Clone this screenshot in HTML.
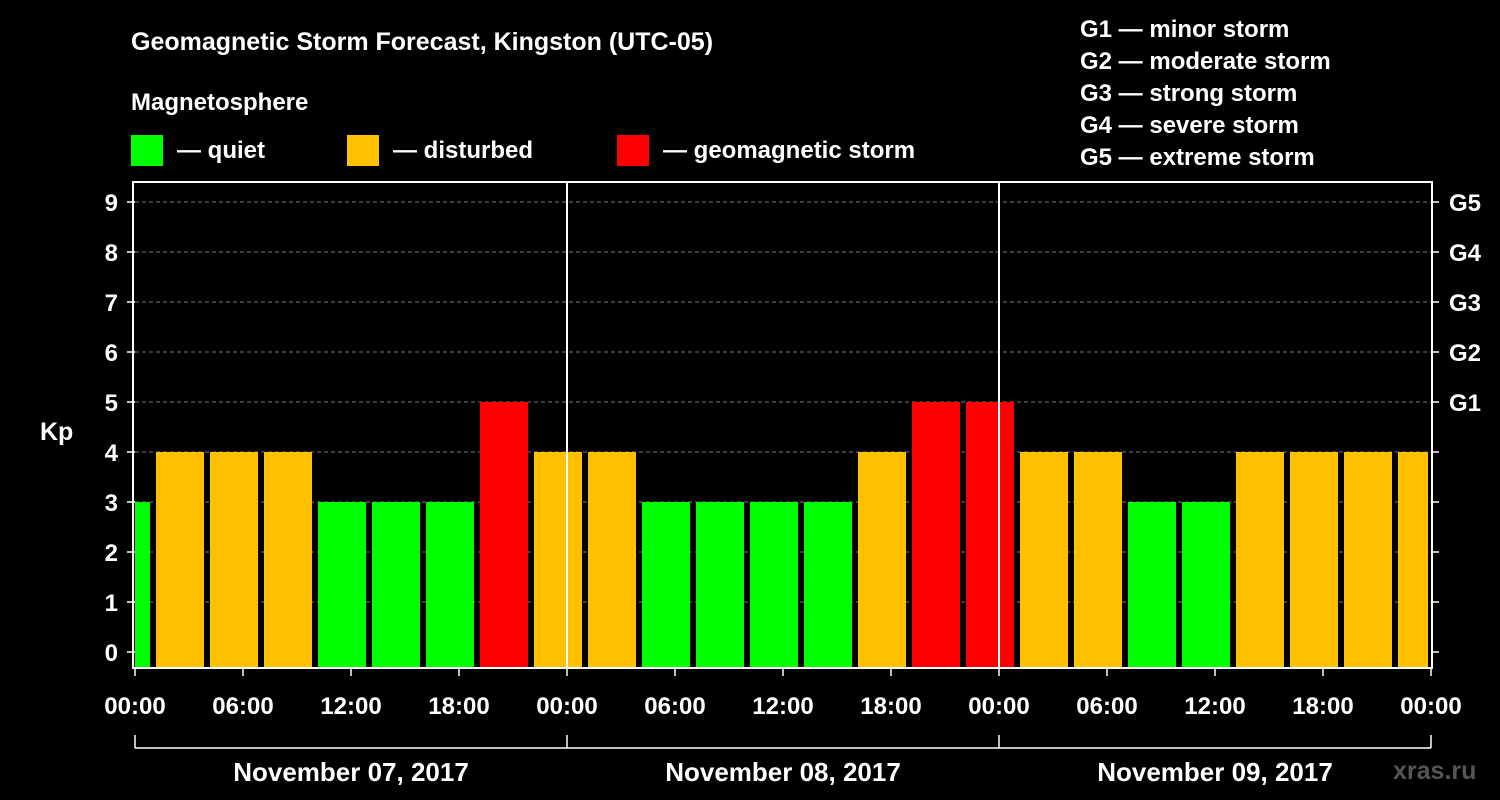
<!DOCTYPE html>
<html><head><meta charset="utf-8"><style>
html,body{margin:0;padding:0;background:#000;}
svg{display:block;font-family:"Liberation Sans",Arial,sans-serif;font-weight:bold;}
</style></head><body>
<svg id="chart" width="1500" height="800" viewBox="0 0 1500 800">
<rect x="0" y="0" width="1500" height="800" fill="#000"/>
<text x="131" y="50" fill="#fff" font-size="25">Geomagnetic Storm Forecast, Kingston (UTC-05)</text>
<text x="131" y="110" fill="#fff" font-size="24">Magnetosphere</text>
<g><rect x="131" y="135" width="32" height="31" fill="#00ff00"/><text x="177" y="158" fill="#fff" font-size="24">— quiet</text></g>
<g><rect x="347" y="135" width="32" height="31" fill="#ffc000"/><text x="393" y="158" fill="#fff" font-size="24">— disturbed</text></g>
<g><rect x="617" y="135" width="32" height="31" fill="#ff0000"/><text x="663" y="158" fill="#fff" font-size="24">— geomagnetic storm</text></g>
<g fill="#fff" font-size="24">
<text x="1080" y="37">G1 — minor storm</text>
<text x="1080" y="69">G2 — moderate storm</text>
<text x="1080" y="101">G3 — strong storm</text>
<text x="1080" y="133">G4 — severe storm</text>
<text x="1080" y="165">G5 — extreme storm</text>
</g>
<text x="40" y="440" fill="#fff" font-size="25">Kp</text>
<text x="1393" y="779" fill="#555" font-size="25">xras.ru</text>
<g id="grid"></g><g id="bars"></g><g id="axes"></g>
</svg>
<script>
const barStartHours = [0,1,4,7,10,13,16,19,22,25,28,31,34,37,40,43,46,49,52,55,58,61,64,67,70];
const barEndHours   = [1,4,7,10,13,16,19,22,25,28,31,34,37,40,43,46,49,52,55,58,61,64,67,70,72];
const kpValues      = [3,4,4,4,3,3,3,5,4,4,3,3,3,3,4,5,5,4,4,3,3,4,4,4,4];
const yTicks = [0,1,2,3,4,5,6,7,8,9];
const gLabels = ["G1","G2","G3","G4","G5"];
const gLevels = [5,6,7,8,9];
const xTickHours = [0,6,12,18,24,30,36,42,48,54,60,66,72];
const xTickLabels = ["00:00","06:00","12:00","18:00","00:00","06:00","12:00","18:00","00:00","06:00","12:00","18:00","00:00"];
const dayLabels = ["November 07, 2017","November 08, 2017","November 09, 2017"];
const dayStarts = [0,24,48];

const NS="http://www.w3.org/2000/svg";
const X0=135, PX_PER_H=18, Y0=652, PX_PER_KP=50, TOP=182, BOTTOM=668, RIGHT=1431;
const x = h => X0 + h*PX_PER_H;
const y = v => Y0 - v*PX_PER_KP;
function mk(tag, attrs, parent, txt){const e=document.createElementNS(NS,tag);for(const k in attrs)e.setAttribute(k,attrs[k]);if(txt!==undefined)e.textContent=txt;parent.appendChild(e);return e;}
const grid=document.getElementById('grid'), bars=document.getElementById('bars'), axes=document.getElementById('axes');

yTicks.forEach(v=>{
  if(v>0){const l=mk('line',{x1:X0,x2:RIGHT,y1:y(v),y2:y(v),stroke:'#777','stroke-dasharray':'4,3','stroke-width':1},grid);
  
  }
  const t=mk('text',{x:118,y:y(v)+9,fill:'#fff','font-size':24,'text-anchor':'end'},axes,String(v));
  
  
  mk('line',{x1:X0-8,x2:X0,y1:y(v),y2:y(v),stroke:'#fff','stroke-width':1.5},axes);
  mk('line',{x1:RIGHT,x2:RIGHT+8,y1:y(v),y2:y(v),stroke:'#fff','stroke-width':1.5},axes);
});
gLabels.forEach((g,i)=>{
  const t=mk('text',{x:1449,y:y(gLevels[i])+9,fill:'#fff','font-size':24},axes,g);
  
  
});
kpValues.forEach((v,i)=>{
  const col = v>=5?'#ff0000':(v>=4?'#ffc000':'#00ff00');
  let x1=x(barStartHours[i]), x2=x(barEndHours[i]);
  if(barStartHours[i]>0) x1+=3;
  if(barEndHours[i]<72) x2-=3; else x2-=3;
  const r=mk('rect',{x:x1,y:y(v),width:Math.max(0,x2-x1),height:BOTTOM-y(v),fill:col},bars);
  
  
});
// day separators
[24,48].forEach(h=>{mk('line',{x1:x(h),x2:x(h),y1:TOP,y2:BOTTOM,stroke:'#fff','stroke-width':2},axes);});
// frame
const f=mk('rect',{x:X0-2,y:TOP,width:RIGHT-X0+3,height:BOTTOM-TOP,fill:'none',stroke:'#fff','stroke-width':2},axes);


xTickHours.forEach((h,i)=>{
  mk('line',{x1:x(h),x2:x(h),y1:BOTTOM,y2:BOTTOM+8,stroke:'#fff','stroke-width':1.5},axes);
  const t=mk('text',{x:x(h),y:714,fill:'#fff','font-size':24,'text-anchor':'middle'},axes,xTickLabels[i]);
  
  
});
mk('line',{x1:x(0),x2:x(72),y1:748,y2:748,stroke:'#fff','stroke-width':1.5},axes);
[0,24,48,72].forEach(h=>mk('line',{x1:x(h),x2:x(h),y1:735,y2:748,stroke:'#fff','stroke-width':1.5},axes));
dayLabels.forEach((d,i)=>{
  const t=mk('text',{x:x(dayStarts[i]+12),y:781,fill:'#fff','font-size':26,'text-anchor':'middle'},axes,d);
  
  
});
</script>
</body></html>
